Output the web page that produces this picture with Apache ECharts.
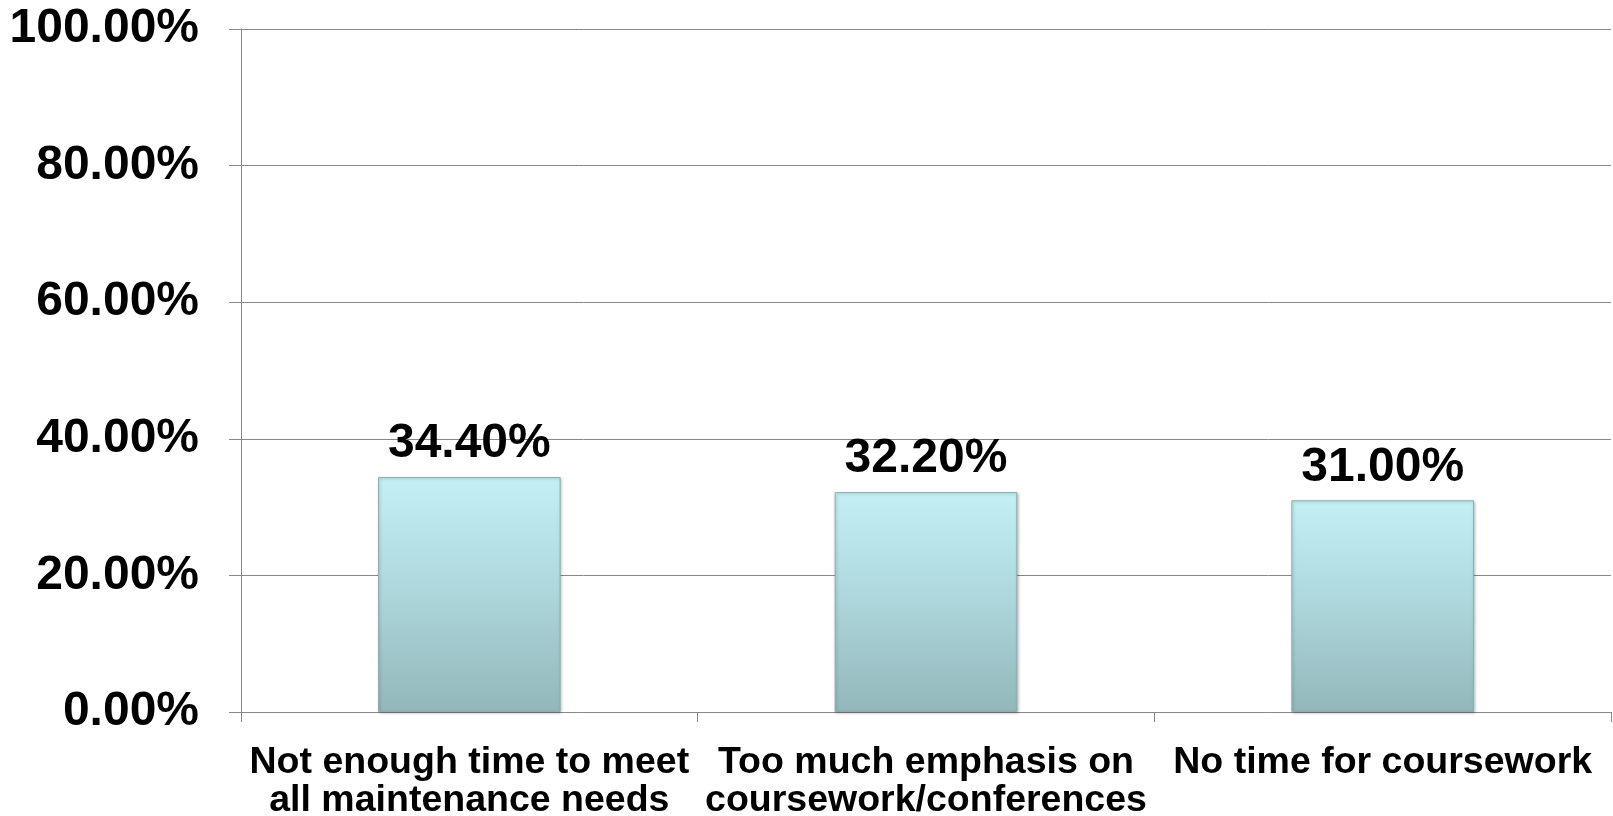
<!DOCTYPE html>
<html>
<head>
<meta charset="utf-8">
<title>Barriers</title>
<script src="https://cdn.jsdelivr.net/npm/echarts@6/dist/echarts.min.js"></script>
<style>
  html, body { margin: 0; padding: 0; background: #ffffff; }
  #chart { width: 1613px; height: 816px; }
</style>
</head>
<body>
<div id="chart"></div>
<script>
// Survey responses: share of respondents naming each barrier
const categories = [
  'Not enough time to meet\nall maintenance needs',
  'Too much emphasis on\ncoursework/conferences',
  'No time for coursework'
];
const values = [34.4, 32.2, 31.0];
const yTicks = { min: 0, max: 100, interval: 20 };

const FONT = '"Liberation Sans", Arial, Helvetica, sans-serif';
const AXIS_GREY = '#878787';

const chart = echarts.init(document.getElementById('chart'), null, { renderer: 'canvas' });

const barFill = new echarts.graphic.LinearGradient(0, 0, 0, 1, [
  { offset: 0, color: '#c4f0f5' },
  { offset: 0.5, color: '#acd6db' },
  { offset: 1, color: '#93b7ba' }
]);

chart.setOption({
  animation: false,
  backgroundColor: '#ffffff',
  grid: {
    left: 241, right: 2, top: 29, bottom: 104,
    containLabel: false,
    outerBoundsMode: 'none'
  },
  xAxis: {
    type: 'category',
    data: categories,
    axisLine: { show: true, lineStyle: { color: AXIS_GREY, width: 1 } },
    axisTick: { show: true, alignWithLabel: false, length: 10, lineStyle: { color: AXIS_GREY } },
    axisLabel: {
      interval: 0,
      margin: 32,
      color: '#000000',
      fontFamily: FONT,
      fontWeight: 'bold',
      fontSize: 37.5,
      lineHeight: 38,
      align: 'center'
    }
  },
  yAxis: {
    type: 'value',
    min: yTicks.min,
    max: yTicks.max,
    interval: yTicks.interval,
    axisLine: { show: true, lineStyle: { color: AXIS_GREY, width: 1 } },
    axisTick: { show: true, length: 12, lineStyle: { color: AXIS_GREY } },
    splitLine: { show: true, lineStyle: { color: AXIS_GREY, width: 1 } },
    axisLabel: {
      margin: 42,
      color: '#000000',
      fontFamily: FONT,
      fontWeight: 'bold',
      fontSize: 48,
      padding: [4, 0, 0, 0],
      formatter: v => v.toFixed(2) + '%'
    }
  },
  series: [{
    type: 'bar',
    data: values,
    barWidth: '40%',
    itemStyle: {
      color: barFill,
      borderColor: '#8aaeb1',
      borderWidth: 1,
      shadowColor: 'rgba(0,0,0,0.25)',
      shadowBlur: 3,
      shadowOffsetX: 1,
      shadowOffsetY: 1
    },
    label: {
      show: true,
      position: 'top',
      distance: 9,
      color: '#000000',
      fontFamily: FONT,
      fontWeight: 'bold',
      fontSize: 48,
      formatter: p => p.value.toFixed(2) + '%'
    }
  }]
});
</script>
</body>
</html>
